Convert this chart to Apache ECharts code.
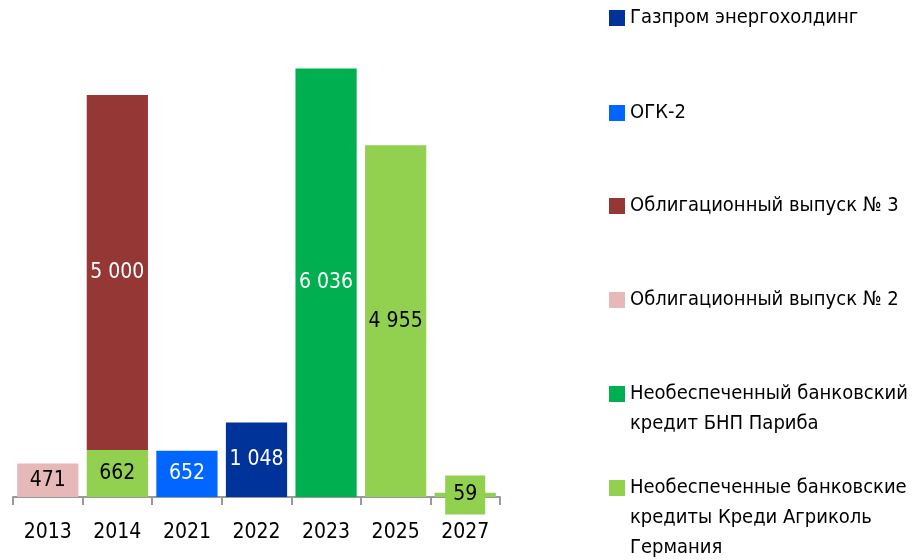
<!doctype html>
<html>
    <head>
        <meta charset="utf-8">
        <style>
            html, body { margin: 0; padding: 0; background: #fff; }
            #main { width: 923px; height: 560px; }
        </style>
    </head>
    <body>
        <div id="main"></div>
        <script src="https://cdn.jsdelivr.net/npm/echarts@6/dist/echarts.min.js"></script>
        <script>
            var years = ['2013', '2014', '2021', '2022', '2023', '2025', '2027'];

            var gazprom = [null, null, null, 1048, null, null, null];
            var ogk2 = [null, null, 652, null, null, null, null];
            var bond3 = [null, 5000, null, null, null, null, null];
            var bond2 = [471, null, null, null, null, null, null];
            var bnp = [null, null, null, null, 6036, null, null];
            var agricole = [null, 662, null, null, null, 4955, 59];

            var names = [
                'Газпром энергохолдинг',
                'ОГК-2',
                'Облигационный выпуск № 3',
                'Облигационный выпуск № 2',
                'Необеспеченный банковский\nкредит БНП Париба',
                'Необеспеченные банковские\nкредиты Креди Агриколь\nГермания'
            ];
            var colors = ['#003399', '#0066ff', '#953735', '#e6b9b8', '#00b050', '#92d050'];
            var labelColors = ['#fff', '#fff', '#fff', '#000', '#fff', '#000'];

            var font = '"Liberation Sans Narrow", "DejaVu Sans Condensed", sans-serif';

            function fmt(p) {
                return String(p.value).replace(/\B(?=(\d{3})+(?!\d))/g, ' ');
            }

            function makeSeries(idx, values) {
                return {
                    name: names[idx],
                    type: 'bar',
                    stack: 'total',
                    barCategoryGap: '12%',
                    data: values.map(function (v) {
                        // tiny bar: label sits in its own green box
                        if (v !== null && v < 100) {
                            return {
                                value: v,
                                label: { backgroundColor: colors[idx], padding: [9, 8] }
                            };
                        }
                        return v;
                    }),
                    itemStyle: { color: colors[idx] },
                    label: {
                        show: true,
                        position: 'inside',
                        color: labelColors[idx],
                        fontFamily: font,
                        fontSize: 21,
                        formatter: fmt
                    }
                };
            }

            // legend entries: marker aligned with first text line
            var legendCenters = [18, 113, 206, 300, 394, 488];
            var lh = 30;
            var legends = names.map(function (n, i) {
                var lines = n.split('\n').length;
                var pad = '';
                for (var k = 1; k < lines; k++) pad += '\n';
                return {
                    data: [n],
                    left: 609,
                    top: legendCenters[i] - (2 * lines - 1) * lh / 2,
                    padding: 0,
                    itemWidth: 16,
                    itemHeight: 16,
                    icon: 'rect',
                    selectedMode: false,
                    formatter: function (name) { return pad + name; },
                    textStyle: {
                        fontFamily: font,
                        fontSize: 20,
                        lineHeight: lh,
                        color: '#000'
                    }
                };
            });

            var chart = echarts.init(document.getElementById('main'));
            chart.setOption({
                animation: false,
                legend: legends,
                grid: {
                    left: 13,
                    right: 423,
                    top: 0,
                    bottom: 63,
                    outerBoundsMode: 'none'
                },
                xAxis: {
                    type: 'category',
                    data: years,
                    axisLine: { show: true, lineStyle: { color: '#999', width: 2 } },
                    axisTick: { show: true, length: 8, lineStyle: { color: '#999', width: 2 } },
                    axisLabel: {
                        margin: 25,
                        color: '#000',
                        fontFamily: font,
                        fontSize: 21
                    }
                },
                yAxis: {
                    type: 'value',
                    min: 0,
                    max: 7000,
                    show: false,
                    splitLine: { show: false }
                },
                series: [
                    makeSeries(0, gazprom),
                    makeSeries(1, ogk2),
                    makeSeries(5, agricole),
                    makeSeries(2, bond3),
                    makeSeries(3, bond2),
                    makeSeries(4, bnp)
                ]
            });

            window.onresize = chart.resize;
        </script>
    </body>
</html>
